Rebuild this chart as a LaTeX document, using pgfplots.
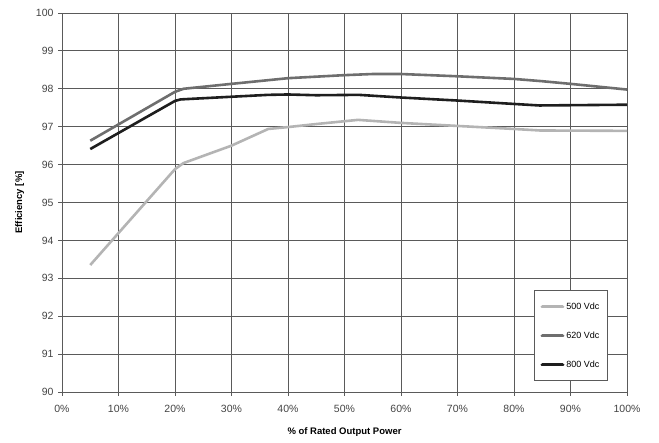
\documentclass[border=0pt]{standalone}
\usepackage{fontspec}
\setmainfont{Liberation Sans}
\usepackage{pgfplots}
\pgfplotsset{compat=1.18}
\definecolor{cA}{HTML}{B4B4B4}
\definecolor{cB}{HTML}{6E6E6E}
\definecolor{cC}{HTML}{1E1E1E}
\definecolor{gridc}{HTML}{5A5A5A}
\definecolor{tickc}{HTML}{444444}
\begin{document}
\begin{tikzpicture}
\begin{axis}[
  scale only axis,
  width=565pt, height=379pt,
  xmin=0, xmax=100, ymin=90, ymax=100,
  xtick={0,10,...,100},
  ytick={90,91,...,100},
  xticklabel={\pgfmathprintnumber{\tick}\%},
  /pgf/number format/assume math mode=true,
  tick label style={font=\fontsize{10.5}{12}\selectfont, text=tickc},
  xticklabel style={yshift=-6pt},
  yticklabel style={xshift=-1pt},
  grid=major,
  grid style={gridc, line width=0.8pt},
  axis line style={gridc, line width=0.9pt},
  tick style={gridc, line width=0.8pt},
  tick align=outside,
  major tick length=4pt,
  xtick pos=bottom, ytick pos=left,
  xlabel={\textbf{\% of Rated Output Power}},
  ylabel={\textbf{Efficiency [\%]}},
  label style={font=\fontsize{9.5}{11}\selectfont},
  xlabel style={yshift=-8pt},
  ylabel style={yshift=5pt},
  legend style={at={(0.966,0.029)}, anchor=south east, draw=gridc, line width=0.8pt,
    font=\fontsize{9}{11}\selectfont, row sep=17pt, inner xsep=6pt, inner ysep=10pt},
  legend cell align=left,
  legend image code/.code={\draw[#1, line width=3.8pt, line cap=round] (0pt,0pt) -- (20pt,0pt);},
]
\addplot[cA, line width=2.6pt] coordinates {
 (5,93.35) (20,95.88) (21.5,96.04) (30,96.5) (36.5,96.94) (40,96.99) (45,97.07) (52.4,97.18) (60,97.1) (70,97.02) (80,96.94) (84.6,96.9) (100,96.89)};
\addlegendentry{500 Vdc}
\addplot[cB, line width=2.6pt] coordinates {
 (5,96.63) (20,97.92) (21.5,98.0) (30,98.13) (40,98.28) (50,98.36) (55,98.39) (60,98.39) (70,98.33) (80,98.26) (85,98.2) (90,98.13) (100,97.98)};
\addlegendentry{620 Vdc}
\addplot[cC, line width=2.6pt] coordinates {
 (5,96.41) (20,97.68) (21,97.72) (30,97.79) (36.5,97.84) (40,97.85) (45,97.83) (52.5,97.84) (60,97.77) (70,97.69) (80,97.6) (84.5,97.56) (100,97.58)};
\addlegendentry{800 Vdc}
\end{axis}
\path (current axis.south west) ++(-62pt,-51pt) coordinate (bbl);
\path (current axis.north east) ++(32pt,13pt) coordinate (bbr);
\path (bbl) rectangle (bbr);
\end{tikzpicture}
\end{document}
